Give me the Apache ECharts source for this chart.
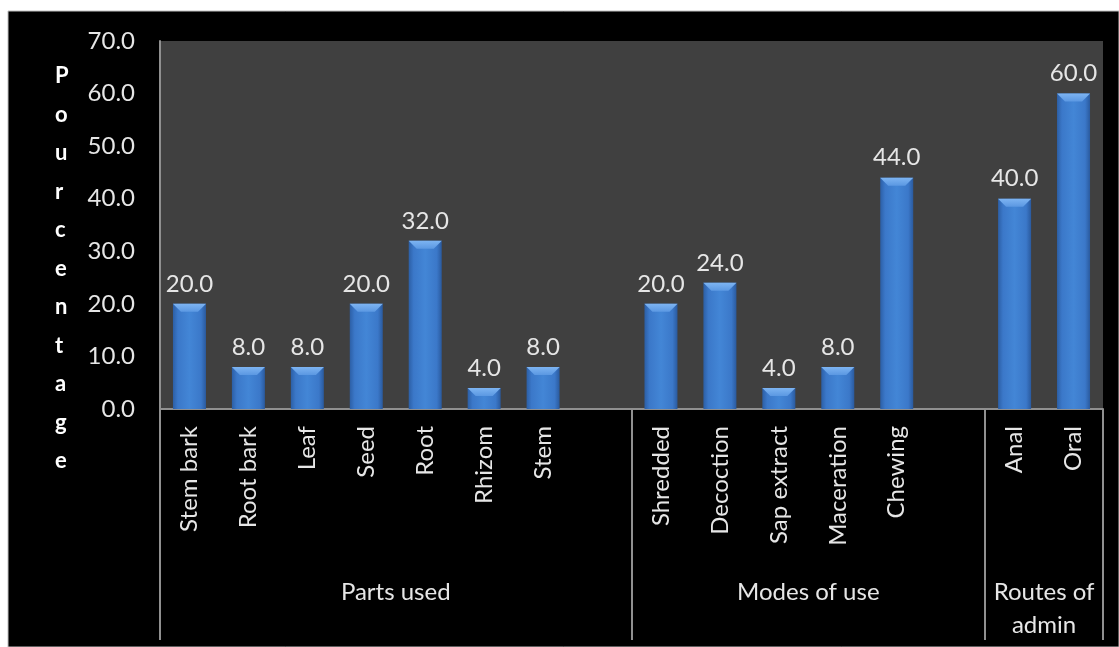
<!DOCTYPE html>
<html>
<head>
<meta charset="utf-8">
<script src="https://cdn.jsdelivr.net/npm/echarts@6/dist/echarts.min.js"></script>
<style>
html,body{margin:0;padding:0;background:#fff;}
#c{width:1119px;height:647px;}
</style>
</head>
<body>
<div id="c"></div>
<script>
const categories = ['Stem bark','Root bark','Leaf','Seed','Root','Rhizom','Stem',' ',
  'Shredded','Decoction','Sap extract','Maceration','Chewing','  ','Anal','Oral'];
const values = [20.0, 8.0, 8.0, 20.0, 32.0, 4.0, 8.0, null,
  20.0, 24.0, 4.0, 8.0, 44.0, null, 40.0, 60.0];
const groupNames = ['Parts used', 'Modes of use', 'Routes of\nadmin'];
const groupSizes = [8, 6, 2];
const yTicks = [0, 10, 20, 30, 40, 50, 60, 70];
const yTitle = 'Pourcentage';

const nSlots = groupSizes.reduce((a, b) => a + b, 0);
const tickIdx = new Set([0]);
const labelAt = {};
let acc = 0;
groupSizes.forEach((s, g) => {
  labelAt[acc * 2 + s] = groupNames[g];
  acc += s;
  tickIdx.add(acc);
});
const halfData = [];
for (let i = 0; i <= nSlots * 2; i++) halfData.push('h' + i);

const chart = echarts.init(document.getElementById('c'));
const textColor = '#e6e6e6';
const gray = '#909090';
const FS = 24;

const bodyGrad = new echarts.graphic.LinearGradient(0, 0, 1, 0, [
  {offset: 0, color: '#2c5fa6'},
  {offset: 0.15, color: '#3b78c9'},
  {offset: 0.5, color: '#4386d6'},
  {offset: 0.85, color: '#3b78c9'},
  {offset: 1, color: '#2a5a9e'}
]);

chart.setOption({
  backgroundColor: '#ffffff',
  animation: false,
  graphic: [
    {type: 'rect', z: -100, silent: true, shape: {x: 8, y: 11, width: 1111, height: 636},
     style: {fill: '#000000', stroke: '#bfbfbf', lineWidth: 1}},
    {type: 'text', left: 55, top: 57, z: 10,
     style: {text: yTitle.split('').join('\n'), fill: '#ffffff', font: 'bold 22px Lato',
             lineHeight: 38.5, align: 'center'}}
  ],
  grid: {left: 160, right: 16, top: 41, bottom: 238, show: true,
         backgroundColor: '#404040', borderWidth: 0},
  xAxis: [
    {type: 'category', data: categories, position: 'bottom',
     axisLine: {show: true, lineStyle: {color: gray, width: 2}},
     axisTick: {show: false},
     axisLabel: {rotate: 90, interval: 0, margin: 17, color: textColor,
                 fontFamily: 'Lato', fontSize: FS}},
    {type: 'category', data: halfData, boundaryGap: false, position: 'bottom',
     axisLine: {show: false},
     axisTick: {show: true, length: 231, inside: false,
                interval: (i) => tickIdx.has(i / 2),
                lineStyle: {color: gray, width: 2}},
     axisLabel: {show: true, margin: 167, color: textColor, fontFamily: 'Lato',
                 fontSize: FS, lineHeight: 33,
                 interval: (i) => labelAt[i] !== undefined,
                 formatter: (v, i) => labelAt[i] || ''}}
  ],
  yAxis: {type: 'value', min: yTicks[0], max: yTicks[yTicks.length - 1], interval: 10,
    axisLine: {show: true, lineStyle: {color: gray, width: 2}},
    axisTick: {show: false},
    splitLine: {show: false},
    axisLabel: {margin: 25, color: textColor, fontFamily: 'Lato', fontSize: FS,
                formatter: (v) => v.toFixed(1)}},
  series: [
    {type: 'bar', data: values, barWidth: '56%', xAxisIndex: 0,
     itemStyle: {color: bodyGrad},
     label: {show: true, position: 'top', distance: 8, color: textColor,
             fontFamily: 'Lato', fontSize: FS,
             formatter: (p) => p.value == null ? '' : Number(p.value).toFixed(1)}},
    {type: 'custom', xAxisIndex: 0, data: values.map((v, i) => [i, v]),
     z: 5,
     renderItem: function (params, api) {
       const v = api.value(1);
       if (v == null || isNaN(v)) return;
       const top = api.coord([api.value(0), v]);
       const base = api.coord([api.value(0), 0]);
       const w = api.size([1, 0])[0] * 0.56;
       const l = top[0] - w / 2, r = top[0] + w / 2;
       const h = base[1] - top[1];
       const b = Math.min(8, h);
       return {
         type: 'polygon',
         shape: {points: [[l, top[1]], [r, top[1]], [r - b, top[1] + b], [l + b, top[1] + b]]},
         style: {fill: new echarts.graphic.LinearGradient(0, 0, 0, 1, [
           {offset: 0, color: '#7db4f2'}, {offset: 1, color: '#5b98e2'}])}
       };
     }}
  ]
});
</script>
</body>
</html>
